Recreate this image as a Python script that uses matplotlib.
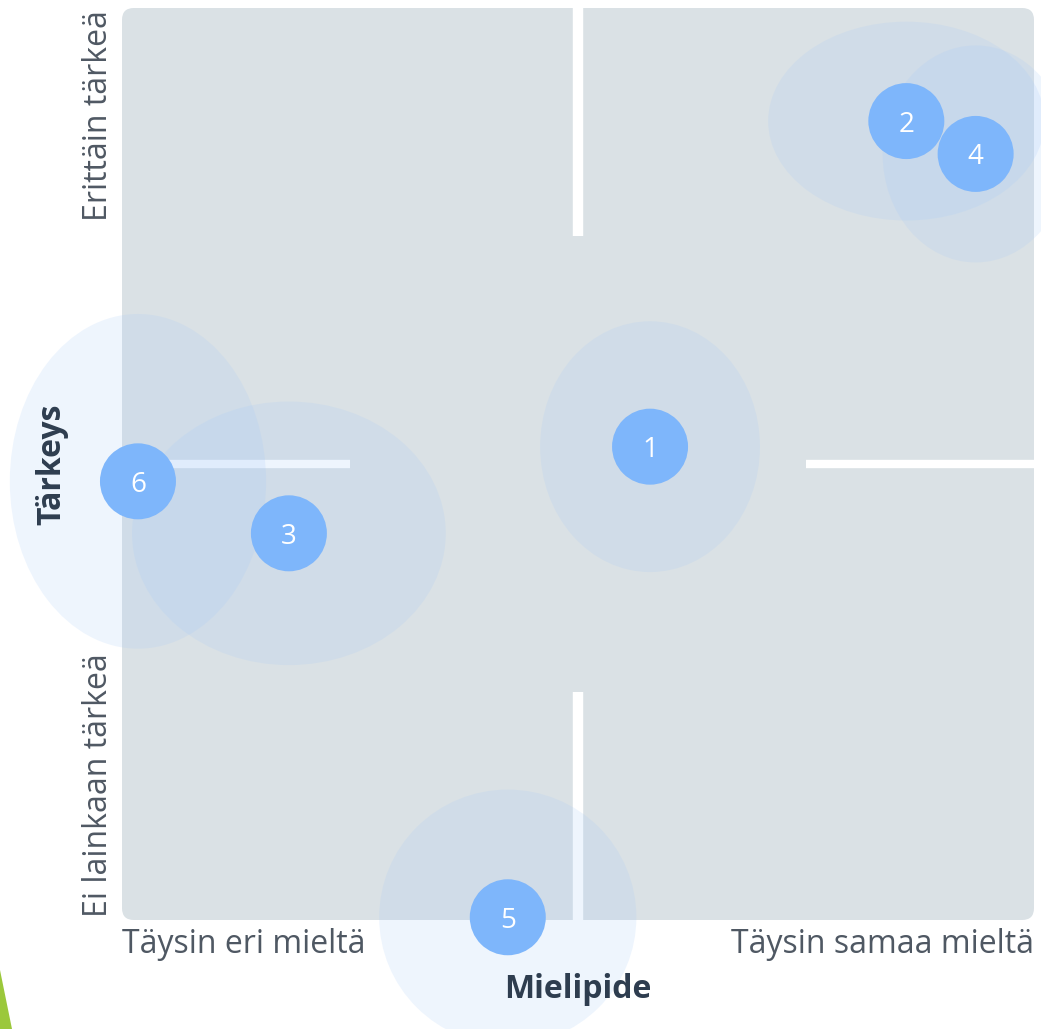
import numpy as np
import matplotlib.pyplot as plt
from matplotlib.patches import Ellipse, FancyBboxPatch, Polygon

# Arvot 0..100 asteikolla (Mielipide x, Tärkeys y)
labels = ["1", "2", "3", "4", "5", "6"]
mielipide = [57.9, 86.0, 18.3, 93.6, 42.3, 1.75]
tarkeys = [51.9, 87.6, 42.4, 84.0, 0.3, 48.1]
# hajonta (ellipsin leveys ja korkeus samoissa yksiköissä)
hajonta_x = [24.1, 30.3, 34.4, 20.4, 28.2, 28.1]
hajonta_y = [27.5, 21.8, 28.9, 23.8, 28.0, 36.7]

x_ticks = ["Täysin eri mieltä", "Täysin samaa mieltä"]
y_ticks = ["Ei lainkaan tärkeä", "Erittäin tärkeä"]

plt.rcParams['font.family'] = ['Open Sans', 'DejaVu Sans']

W, H = 1041, 1029
fig = plt.figure(figsize=(W / 100, H / 100), dpi=100)
ax = fig.add_axes([122 / W, (H - 920) / H, 912 / W, 912 / H])
ax.set_xlim(0, 100)
ax.set_ylim(0, 100)
ax.set_facecolor('none')
for s in ax.spines.values():
    s.set_visible(False)
ax.set_xticks([])
ax.set_yticks([])

# taustalaatikko pyöristetyillä kulmilla
bg = FancyBboxPatch((0, 0), 1, 1, boxstyle="round,pad=0,rounding_size=0.013",
                    transform=ax.transAxes, facecolor='#dae1e5', edgecolor='none',
                    zorder=0)
ax.add_patch(bg)

# nelikentän valkoiset viivat (keskeltä katkaistu)
gap = 25
ax.plot([50, 50], [50 + gap, 100], color='white', lw=7.5, solid_capstyle='butt', zorder=1)
ax.plot([50, 50], [0, 50 - gap], color='white', lw=7.5, solid_capstyle='butt', zorder=1)
ax.plot([0, 50 - gap], [50, 50], color='white', lw=6, solid_capstyle='butt', zorder=1)
ax.plot([50 + gap, 100], [50, 50], color='white', lw=6, solid_capstyle='butt', zorder=1)

for i in range(len(labels)):
    e = Ellipse((mielipide[i], tarkeys[i]), hajonta_x[i], hajonta_y[i],
                facecolor='#a5caf9', edgecolor='none', alpha=0.19,
                clip_on=False, zorder=2)
    ax.add_patch(e)

ax.scatter(mielipide, tarkeys, s=(38 * 2 * 0.72) ** 2, color='#7eb6fb',
           edgecolors='none', clip_on=False, zorder=3)
for i, lab in enumerate(labels):
    ax.text(mielipide[i], tarkeys[i], lab, color='white', fontsize=20,
            ha='center', va='center_baseline', zorder=4)

tick_col = '#4f5863'
px = 100 / 912  # yksi pikseli data-yksiköissä
ax.text(0, -33 * px, x_ticks[0], ha='left', va='baseline', fontsize=23, color=tick_col)
ax.text(100, -33 * px, x_ticks[1], ha='right', va='baseline', fontsize=23, color=tick_col)
ax.text(-15 * px, 0.3, y_ticks[0], ha='left', va='baseline', rotation=90,
        rotation_mode='anchor', fontsize=23, color=tick_col)
ax.text(-15 * px, 99.8, y_ticks[1], ha='right', va='baseline', rotation=90,
        rotation_mode='anchor', fontsize=23, color=tick_col)

ax.text(50, -78 * px, "Mielipide", ha='center', va='baseline', fontsize=23,
        fontweight='bold', color='#2e3d4f')
ax.text(-62 * px, 50, "Tärkeys", ha='center', va='baseline', rotation=90,
        rotation_mode='anchor', fontsize=23, fontweight='bold', color='#2e3d4f')

# vihreä koristekolmio vasemmassa alakulmassa
fig.patches.append(Polygon([(0, 1 - 970 / H), (12 / W, 0), (0, 0)], closed=True,
                           transform=fig.transFigure, facecolor='#9bc83b',
                           edgecolor='none'))

fig.savefig('out.png', dpi=100)
